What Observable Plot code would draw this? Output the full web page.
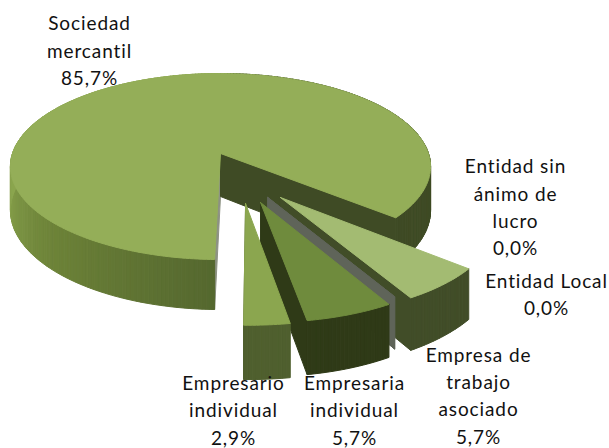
<!DOCTYPE html>
<html><head><meta charset="utf-8">
<script src="https://cdn.jsdelivr.net/npm/d3@7"></script>
<script src="https://cdn.jsdelivr.net/npm/@observablehq/plot@0.6"></script>
<style>html,body{margin:0;padding:0;background:#fff}svg{display:block}</style>
</head><body><div id="chart"></div>
<script>
// Data
const categories = ["Sociedad\nmercantil","Empresa de\ntrabajo\nasociado","Entidad Local","Entidad sin\nánimo de\nlucro","Empresaria\nindividual","Empresario\nindividual"];
const values = [85.7,5.7,0,0,5.7,2.9];
const valueLabels = ["85,7%","5,7%","0,0%","0,0%","5,7%","2,9%"];

// Exploded 3D pie layout (plane units, pie radius = 1)
const explode = [[0,0],[0.27,-0.452],[0.213,-0.452],[0.213,-0.452],[0.179,-0.50],[0.112,-0.51]];
const radius = [1,0.97,0.96,0.96,0.97,0.98];
const topColor = ["#94ae58","#a3bb72","#5f6459","#5f6459","#6f8b3d","#8ba64f"];
const cutColor = ["#3f4b25","#414d28","#5f6459","#5f6459","#2f3a17","#4f5f2e"];
const rimStops = [[130,"#3f4b25"],[175,"#3f4b25"],[182,"#55682f"],[225,"#6c8238"],[270,"#8ba54f"],[320,"#8ba54f"]];
const labelPos = [[89,48.5],[478,393.5],[546,292.5],[515,205],[354,408],[233,408]]; // centre of each label, in page pixels
const persp = 0.14, flat = 91.2/208, depth = 43/208, unit = 208, originX = 220, originY = 153;

const project = (X,Y,z) => { const w = 1+persp*Y; return [X/w,(flat*Y-depth*z)/w]; };
const rimColor = d3.scaleLinear().domain(rimStops.map(d=>d[0])).range(rimStops.map(d=>d[1])).clamp(true);

const arcs = d3.pie().sort(null).startAngle(181.4*Math.PI/180).endAngle((181.4+360)*Math.PI/180)(values);
const rows = [];
let pid = 0;
function poly(points, fill){ pid++; for (const p of [...points,points[0]]) rows.push({id:pid,x:p[0],y:p[1],fill}); }

arcs.forEach((a,i)=>{
  const [ox,oy] = explode[i], r = radius[i];
  const pt = (t,z,rr=r)=>project(ox+rr*Math.sin(t),oy+rr*Math.cos(t),z);
  const apex = z=>project(ox,oy,z);
  const steps = Math.max(1,Math.ceil((a.endAngle-a.startAngle)/(Math.PI/180)));
  const ts = d3.range(steps+1).map(k=>a.startAngle+(a.endAngle-a.startAngle)*k/steps);
  if (i===0) poly([apex(0),pt(a.startAngle,0),pt(a.startAngle,1),apex(1)],"#8d9283");
  poly([apex(0),pt(a.endAngle,0),pt(a.endAngle,1),apex(1)],cutColor[i]);
  if (a.value>0){
    for (let k=0;k<steps;k++){
      const deg = ((ts[k]+ts[k+1])/2*180/Math.PI)%360;
      const c = i===0 ? rimColor(deg<100?130:deg) : cutColor[i];
      poly([pt(ts[k],0),pt(ts[k+1],0),pt(ts[k+1],1),pt(ts[k],1)],c);
    }
    poly([apex(0),...ts.map(t=>pt(t,0))],topColor[i]);
  }
});

const labels = categories.map((c,i)=>({
  text:c+"\n"+valueLabels[i],
  x:(labelPos[i][0]-originX)/unit,
  y:(originY-labelPos[i][1])/unit
}));

const chart = Plot.plot({
  width:609,height:448,margin:0,
  x:{domain:[-originX/unit,(609-originX)/unit],range:[0,609],axis:null},
  y:{domain:[originY/unit,(originY-448)/unit],range:[0,448],axis:null},
  color:{type:"identity"},
  style:{background:"#fff",fontFamily:"Lato, 'Open Sans', sans-serif",letterSpacing:"0.9px"},
  marks:[
    Plot.line(rows,{x:"x",y:"y",z:"id",fill:"fill",stroke:"fill",strokeWidth:1}),
    Plot.text(labels,{x:"x",y:"y",text:"text",fontSize:19,lineHeight:1.437,textAnchor:"middle",fill:"#111"})
  ]
});
document.getElementById("chart").appendChild(chart);
</script></body></html>
